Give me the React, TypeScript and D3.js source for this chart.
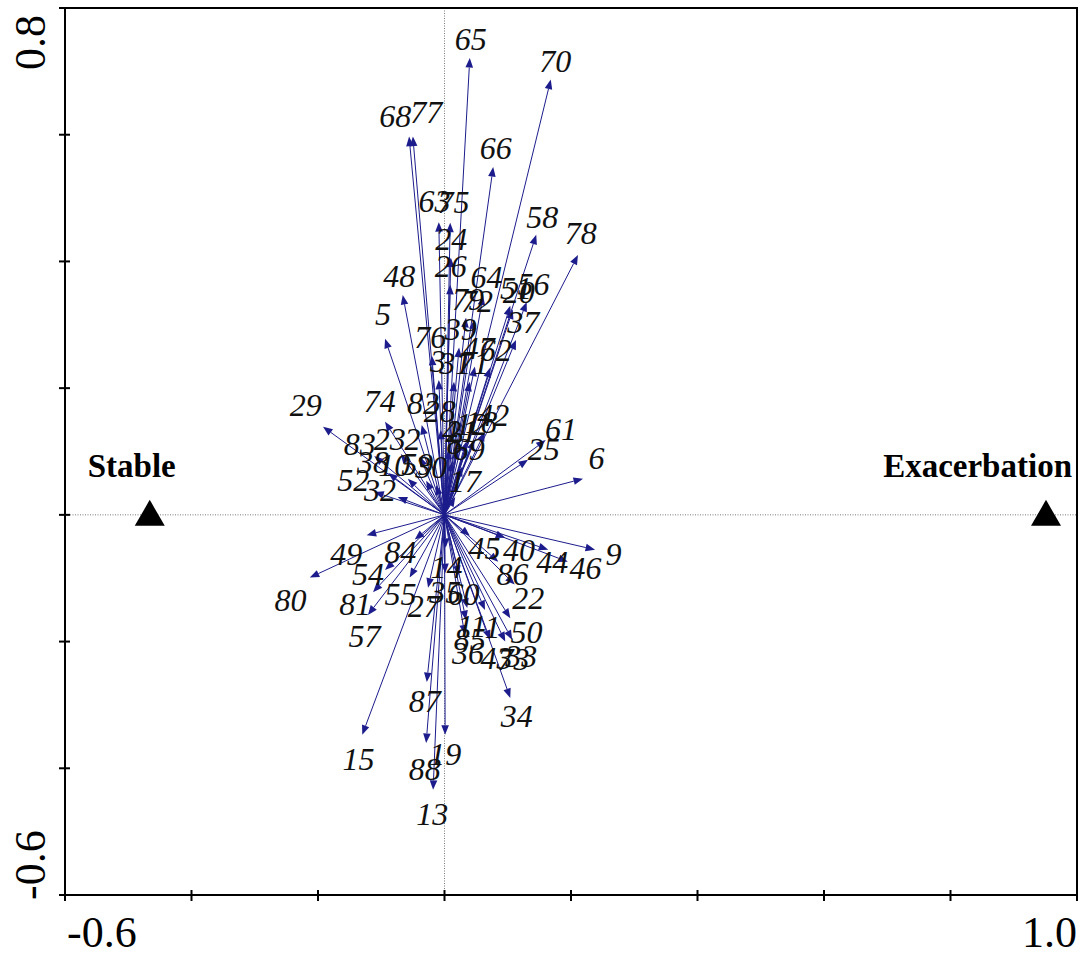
import React from 'react';
import * as d3 from 'd3';

const varLabels = ['65','70','68','77','66','63','75','58','78','24','26','48','64','51','20','56','72','79','5','37','76','39','3','31','71','47','62','29','74','82','28','4','12','18','42','21','8','69','17','83','23','2','38','10','59','30','52','32','61','25','6','45','40','44','9','46','86','22','50','34','11','1','85','36','43','73','33','49','80','84','54','81','57','55','27','35','60','14','15','87','88','19','13'];
const axis1 = [0.040,0.168,-0.056,-0.050,0.077,-0.009,0.009,0.145,0.211,0.010,0.009,-0.066,0.061,0.104,0.108,0.130,0.047,0.034,-0.094,0.113,-0.020,0.023,-0.009,0.015,0.040,0.048,0.072,-0.192,-0.094,-0.036,-0.006,0.007,0.034,0.047,0.064,0.021,0.012,0.028,0.017,-0.111,-0.069,-0.039,-0.089,-0.058,-0.029,-0.013,-0.111,-0.074,0.160,0.132,0.219,0.040,0.096,0.164,0.238,0.195,0.085,0.111,0.104,0.104,0.036,0.064,0.034,0.032,0.072,0.096,0.107,-0.123,-0.213,-0.047,-0.094,-0.113,-0.121,-0.055,-0.026,0.001,0.023,0.002,-0.130,-0.028,-0.029,0.001,-0.018];
const axis2 = [0.721,0.687,0.597,0.597,0.549,0.462,0.461,0.442,0.410,0.406,0.363,0.347,0.346,0.330,0.324,0.336,0.308,0.311,0.278,0.276,0.251,0.264,0.213,0.210,0.210,0.234,0.232,0.139,0.147,0.142,0.134,0.103,0.115,0.118,0.131,0.103,0.084,0.076,0.028,0.093,0.096,0.092,0.066,0.057,0.054,0.047,0.036,0.028,0.118,0.087,0.057,-0.033,-0.036,-0.055,-0.055,-0.074,-0.074,-0.110,-0.163,-0.289,-0.147,-0.150,-0.166,-0.189,-0.197,-0.200,-0.197,-0.032,-0.099,-0.039,-0.087,-0.122,-0.158,-0.099,-0.115,-0.092,-0.095,-0.052,-0.347,-0.264,-0.360,-0.347,-0.434];

const groupLabels = ['Stable', 'Exacerbation'];
const groupX = [-0.466, 0.951];
const groupY = [0, 0];

const xTicks = [-0.6, -0.4, -0.2, 0, 0.2, 0.4, 0.6, 0.8, 1.0];
const yTicks = [-0.6, -0.4, -0.2, 0, 0.2, 0.4, 0.6, 0.8];
const xTickLabels = ['-0.6', '1.0'];
const yTickLabels = ['-0.6', '0.8'];

// label placement nudges (pixels), styling only
const labelShift: Record<string, [number, number]> = {
  '68': [-12, -2], '77': [15, -6], '63': [-4, -2], '75': [3, -2], '78': [-6, -5],
  '5': [4, -7], '29': [-2, -11], '74': [5, -5], '82': [6, -3], '52': [-3, -6],
  '6': [-5, -16], '44': [-14, 6], '40': [-4, 6], '49': [-2, 14], '80': [-2, 14],
  '54': [-3, -9], '81': [-5, -2], '57': [8, 6], '88': [0, 7], '13': [0, 5], '15': [3, 6],
  '50': [6, -2],
};

const W = 1088, H = 958;
const L = 65, R = 1077, T = 8, B = 895;
const ARROW = '#1c1c8c';

export default function App() {
  const x = d3.scaleLinear().domain([-0.6, 1.0]).range([L, R]);
  const y = d3.scaleLinear().domain([-0.6, 0.8]).range([B, T]);
  const ox = x(0), oy = y(0);
  const serif = '"Liberation Serif", "Times New Roman", serif';

  const arrows = varLabels.map((lab, i) => {
    const tx = x(axis1[i]), ty = y(axis2[i]);
    const dx = tx - ox, dy = ty - oy;
    const len = Math.hypot(dx, dy) || 1;
    const ux = dx / len, uy = dy / len;
    const hl = 9.5, hw = 3.8;
    const bx = tx - ux * hl, by = ty - uy * hl;
    const head = `M${tx},${ty}L${bx - uy * hw},${by + ux * hw}L${bx + uy * hw},${by - ux * hw}Z`;
    const s = labelShift[lab] || [0, 0];
    return { lab, tx, ty, bx, by, head, lx: tx + ux * 19 + s[0], ly: ty + uy * 19 + s[1] };
  });

  return (
    <svg width={W} height={H} style={{ position: 'absolute', left: 0, top: 0, background: '#fff' }} fontFamily={serif}>
      <rect x={0} y={0} width={W} height={H} fill="#fff" />
      <line x1={ox} x2={ox} y1={T} y2={B} stroke="#555" strokeWidth={0.8} strokeDasharray="1,1.5" />
      <line x1={L} x2={R} y1={oy} y2={oy} stroke="#555" strokeWidth={0.8} strokeDasharray="1,1.5" />
      {arrows.map((a, i) => (
        <g key={'a' + i}>
          <line x1={ox} y1={oy} x2={a.bx} y2={a.by} stroke={ARROW} strokeWidth={1} />
          <path d={a.head} fill={ARROW} />
        </g>
      ))}
      {arrows.map((a, i) => (
        <text key={'t' + i} x={a.lx} y={a.ly} textAnchor="middle" dominantBaseline="central"
          fontStyle="italic" fontSize={32} fill="#111">{a.lab}</text>
      ))}
      {groupLabels.map((g, i) => {
        const cx = x(groupX[i]), cy = y(groupY[i]);
        return (
          <g key={g}>
            <path d={`M${cx},${cy - 15}L${cx + 15},${cy + 11}L${cx - 15},${cy + 11}Z`} fill="#000" />
            <text x={i === 0 ? cx - 18 : cx + 26} y={cy - 38} textAnchor={i === 0 ? 'middle' : 'end'}
              fontWeight="bold" fontSize={33} fill="#000">{g}</text>
          </g>
        );
      })}
      <rect x={L} y={T} width={R - L} height={B - T} fill="none" stroke="#000" strokeWidth={2} />
      {xTicks.map((t) => (
        <line key={'xt' + t} x1={x(t)} x2={x(t)} y1={B - 5} y2={B + 6} stroke="#000" strokeWidth={2} />
      ))}
      {yTicks.map((t) => (
        <line key={'yt' + t} x1={L - 6} x2={L + 5} y1={y(t)} y2={y(t)} stroke="#000" strokeWidth={2} />
      ))}
      <text x={L + 2} y={947} textAnchor="start" fontSize={44}>{xTickLabels[0]}</text>
      <text x={R} y={947} textAnchor="end" fontSize={44}>{xTickLabels[1]}</text>
      <text transform={`translate(45,${B + 5}) rotate(-90)`} textAnchor="start" fontSize={44}>{yTickLabels[0]}</text>
      <text transform={`translate(45,${T + 7}) rotate(-90)`} textAnchor="end" fontSize={44}>{yTickLabels[1]}</text>
    </svg>
  );
}
